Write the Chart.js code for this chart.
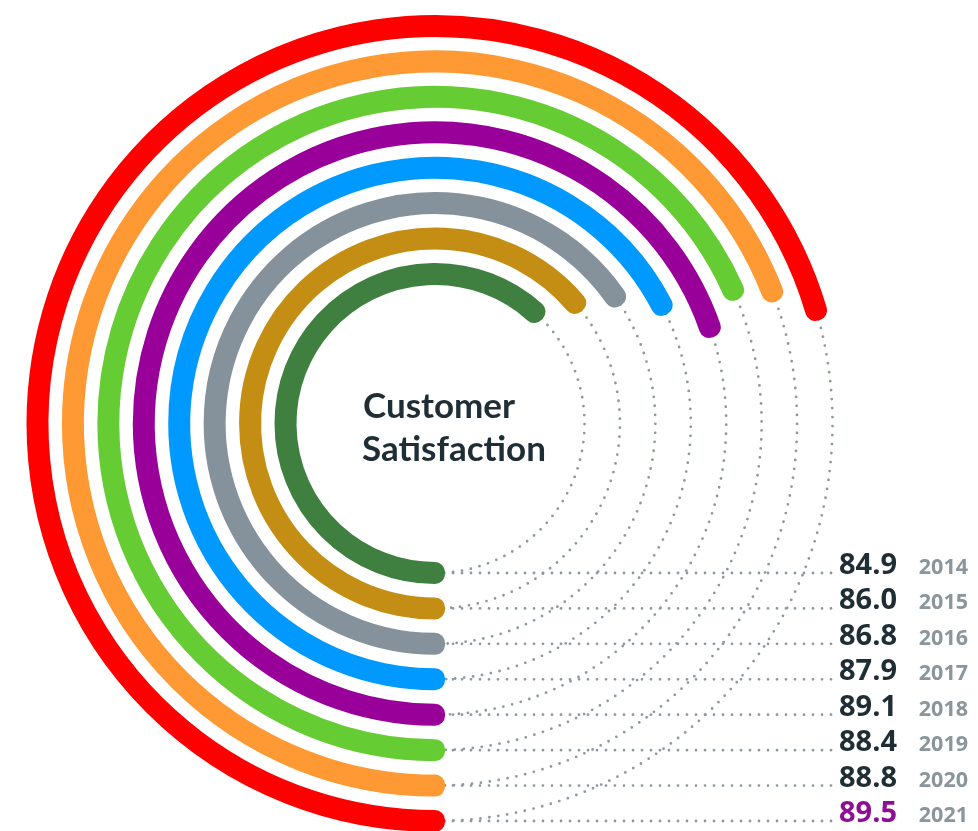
<!DOCTYPE html>
<html>
<head>
<meta charset="utf-8">
<script src="https://cdn.jsdelivr.net/npm/chart.js@4"></script>
<style>
  html, body { margin: 0; padding: 0; background: #fff; overflow: hidden; }
  #wrap { width: 978px; height: 832px; }
</style>
</head>
<body>
<div id="wrap"><canvas id="myChart" width="978" height="832"></canvas></div>
<script>
// values, innermost ring first
const years = ['2014', '2015', '2016', '2017', '2018', '2019', '2020', '2021'];
const scores = [84.9, 86.0, 86.8, 87.9, 89.1, 88.4, 88.8, 89.5];
const scoreLabels = ['84.9', '86.0', '86.8', '87.9', '89.1', '88.4', '88.8', '89.5'];
const ringColors = ['#3f7f3f', '#c48e14', '#85929b', '#0099ff', '#990099', '#66cc33', '#ff9933', '#ff0000'];
const labelColors = ['#1f2d35', '#1f2d35', '#1f2d35', '#1f2d35', '#1f2d35', '#1f2d35', '#1f2d35', '#8e0f93'];

// full circle of the angular scale
const SCALE_MIN = 52.6;
const SCALE_MAX = 105;

const clear = 'rgba(0,0,0,0)';
const datasets = [];
// doughnut draws dataset 0 outermost, so go from 2021 inwards
for (let i = scores.length - 1; i >= 0; i--) {
  datasets.push({
    label: years[i],
    ring: i,
    data: [scores[i] - SCALE_MIN, SCALE_MAX - scores[i]],
    backgroundColor: [ringColors[i], clear],
    borderColor: [ringColors[i], clear],
    borderWidth: [20, 0],
    hoverBorderWidth: [20, 0],
    borderJoinStyle: 'round',
    weight: 2
  });
  if (i > 0) {
    datasets.push({ label: 'gap', data: [1], backgroundColor: clear, borderWidth: 0, hoverBorderWidth: 0, weight: 33.43 });
  }
}

const dotsPlugin = {
  id: 'dots',
  beforeDatasetsDraw(chart) {
    const ctx = chart.ctx;
    ctx.save();
    ctx.strokeStyle = '#8d99a1';
    ctx.lineWidth = 2.8;
    ctx.lineCap = 'round';
    ctx.setLineDash([0, 9]);
    chart.data.datasets.forEach((ds, di) => {
      if (ds.ring === undefined) return;
      const rest = chart.getDatasetMeta(di).data[1];
      const r = (rest.innerRadius + rest.outerRadius) / 2;
      ctx.beginPath();
      ctx.arc(rest.x, rest.y, r, rest.startAngle, rest.endAngle);
      ctx.stroke();
      ctx.beginPath();
      ctx.moveTo(rest.x, rest.y + r);
      ctx.lineTo(832, rest.y + r);
      ctx.stroke();
    });
    ctx.restore();
  },
  afterDraw(chart) {
    const ctx = chart.ctx;
    ctx.save();
    ctx.textBaseline = 'alphabetic';
    chart.data.datasets.forEach((ds, di) => {
      if (ds.ring === undefined) return;
      const i = ds.ring;
      const el = chart.getDatasetMeta(di).data[0];
      const y = el.y + (el.innerRadius + el.outerRadius) / 2 + 1;
      ctx.textAlign = 'left';
      ctx.fillStyle = labelColors[i];
      ctx.font = 'bold 29px "Open Sans"';
      ctx.fillText(scoreLabels[i], 839, y);
      ctx.textAlign = 'right';
      ctx.fillStyle = '#8a959c';
      ctx.font = 'bold 21.5px "Open Sans"';
      ctx.fillText(years[i], 968, y);
    });
    const c = chart.getDatasetMeta(0).data[0];
    ctx.textAlign = 'left';
    ctx.fillStyle = '#1f2d35';
    ctx.font = 'bold 35px Lato';
    ctx.fillText('Customer', c.x - 72, c.y - 6);
    ctx.fillText('Satisfaction', c.x - 73, c.y + 37);
    ctx.restore();
  }
};

const ctx = document.getElementById('myChart').getContext('2d');
const myChart = new Chart(ctx, {
  type: 'doughnut',
  data: { labels: ['score', 'rest'], datasets: datasets },
  options: {
    responsive: false,
    animation: false,
    events: [],
    rotation: 180,
    circumference: 360,
    cutout: 148.5,
    layout: { padding: { left: 26.5, right: 134.5, top: 15, bottom: 0 } },
    plugins: {
      legend: { display: false },
      tooltip: { enabled: false }
    }
  },
  plugins: [dotsPlugin]
});
</script>
</body>
</html>
